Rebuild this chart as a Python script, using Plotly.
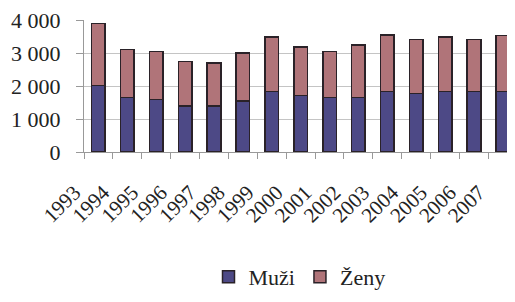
import plotly.graph_objects as go

years = ["1993", "1994", "1995", "1996", "1997", "1998", "1999", "2000",
         "2001", "2002", "2003", "2004", "2005", "2006", "2007"]
muzi = [2020, 1650, 1590, 1400, 1400, 1540, 1830, 1710, 1650, 1650, 1830, 1770, 1830, 1830, 1830]
totals = [3900, 3110, 3050, 2750, 2700, 3000, 3480, 3180, 3050, 3240, 3540, 3410, 3480, 3410, 3530]
zeny = [t - m for t, m in zip(totals, muzi)]

FONT = "Liberation Serif"
outline = dict(color="#2a2228", width=1.5)

fig = go.Figure()
fig.add_trace(go.Bar(x=years, y=muzi, name="Muži",
                     marker=dict(color="#4d4986", line=outline)))
fig.add_trace(go.Bar(x=years, y=zeny, name="Ženy",
                     marker=dict(color="#b07479", line=outline)))

fig.update_layout(
    barmode="stack",
    bargap=0.53,
    width=507, height=294,
    margin=dict(l=76, r=0, t=12, b=150, autoexpand=False),
    paper_bgcolor="white", plot_bgcolor="white",
    separators=", ",
    font=dict(family=FONT, color="#222222"),
    showlegend=True,
    legend=dict(orientation="h", x=0.5, xanchor="center", y=-0.947, yanchor="middle",
                font=dict(family=FONT, size=22, color="#222222"),
                itemwidth=30, traceorder="normal"),
    xaxis=dict(
        range=[-0.5, 14.42],
        tickangle=-45,
        automargin=False,
        tickfont=dict(family=FONT, size=21, color="#222222"),
        ticks="outside", tickson="boundaries", ticklen=6, tickcolor="#999999",
        showline=True, linecolor="#999999", linewidth=1,
        ticklabelshift=-24, ticklabelstandoff=19,
        ticklabeloverflow="allow",
        showgrid=False,
    ),
    yaxis=dict(
        range=[0, 4000],
        automargin=False,
        tickvals=[0, 1000, 2000, 3000, 4000],
        tickformat=",d",
        tickfont=dict(family=FONT, size=22, color="#222222"),
        ticks="outside", ticklen=7, tickcolor="#999999",
        showline=True, linecolor="#999999", linewidth=1,
        showgrid=True, gridcolor="#c4c4c4", gridwidth=1,
        ticklabelstandoff=11,
        ticklabeloverflow="allow",
        zeroline=False,
    ),
)

fig.write_html("out.html")
